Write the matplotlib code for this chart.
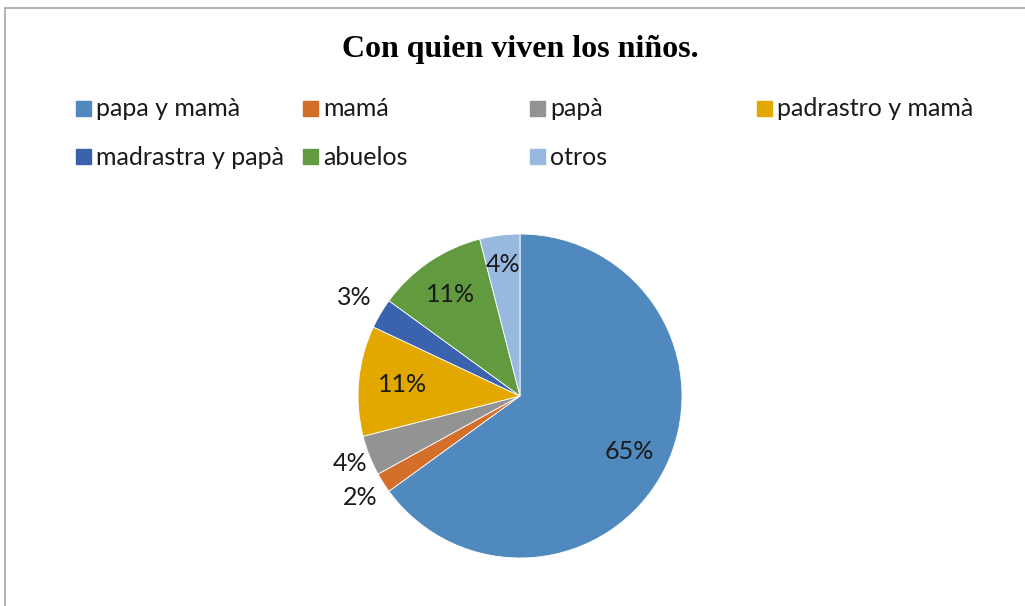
import matplotlib
matplotlib.use("Agg")
import matplotlib.pyplot as plt
from matplotlib.patches import Rectangle
import numpy as np

categories = ["papa y mamà", "mamá", "papà", "padrastro y mamà",
              "madrastra y papà", "abuelos", "otros"]
values = [65, 2, 4, 11, 3, 11, 4]
pct_labels = ["65%", "2%", "4%", "11%", "3%", "11%", "4%"]
colors = ["#4F89BD", "#D36F2B", "#939393", "#E2A800", "#3B63AD", "#629A3F", "#97B9E0"]
label_dist = [0.76, 1.17, 1.13, 0.73, 1.19, 0.76, 0.82]

W, H = 1025, 606
fig = plt.figure(figsize=(W / 100, H / 100), dpi=100)

# border of the chart area
fig.add_artist(Rectangle((5 / W, -0.1), 1.2, (H - 8) / H + 0.1,
                         transform=fig.transFigure, fill=False,
                         edgecolor="#A6A6A6", linewidth=1.2))

fig.text(520 / W, 1 - 50 / H, "Con quien viven los niños.", ha="center", va="center",
         family="Liberation Serif", fontweight="bold", fontsize=23)

# legend (manual, equal column spacing)
col_x = [76, 303, 530, 757]
row_y = [109, 157]
for i, (lab, c) in enumerate(zip(categories, colors)):
    r, k = divmod(i, 4)
    x, y = col_x[k], row_y[r]
    fig.add_artist(Rectangle((x / W, 1 - (y + 7) / H), 15 / W, 15 / H,
                             transform=fig.transFigure, color=c))
    fig.text((x + 20) / W, 1 - y / H, lab, ha="left", va="center",
             family="Lato", fontsize=18, color="#1a1a1a")

cx, cy, R = 520, 396, 162
ax = fig.add_axes([(cx - R) / W, (H - cy - R) / H, 2 * R / W, 2 * R / H])
wedges, _ = ax.pie(values, colors=colors, startangle=90, counterclock=False,
                   wedgeprops=dict(edgecolor="white", linewidth=0.6))
ax.set_xlim(-1, 1)
ax.set_ylim(-1, 1)
for w, t, d in zip(wedges, pct_labels, label_dist):
    ang = np.deg2rad((w.theta1 + w.theta2) / 2)
    ax.text(d * np.cos(ang), d * np.sin(ang), t, ha="center", va="center",
            family="Lato", fontsize=18, color="#1a1a1a")

fig.savefig("out.png", dpi=100)
